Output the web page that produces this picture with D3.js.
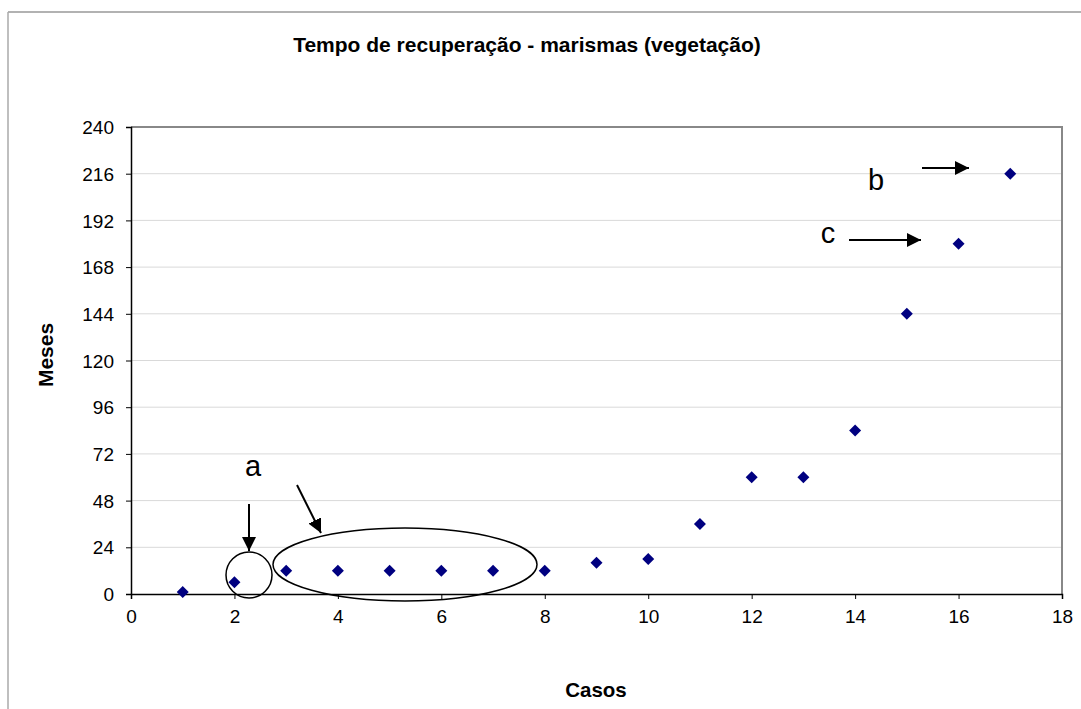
<!DOCTYPE html>
<html><head><meta charset="utf-8">
<script src="https://cdn.jsdelivr.net/npm/d3@7"></script>
<style>body{margin:0;background:#fff}svg{display:block}text{font-family:"Liberation Sans",Arial,sans-serif}</style>
</head><body><svg id="c" width="1081" height="709"></svg>
<script>
const casos = [1,2,3,4,5,6,7,8,9,10,11,12,13,14,15,16,17];
const meses = [1,6,12,12,12,12,12,12,16,18,36,60,60,84,144,180,216];
const xTicks = [0,2,4,6,8,10,12,14,16,18];
const yTicks = [0,24,48,72,96,120,144,168,192,216,240];
const title = "Tempo de recuperação - marismas (vegetação)";
const xLabel = "Casos", yLabel = "Meses";

const svg = d3.select("#c");
const L=131, R=1062, T=127, B=594;
const x = d3.scaleLinear().domain([0,18]).range([L,R]);
const y = d3.scaleLinear().domain([0,240]).range([B,T]);

// outer frame
svg.append("line").attr("x1",8).attr("x2",1081).attr("y1",12).attr("y2",12).attr("stroke","#666").attr("stroke-width",1.2);
svg.append("line").attr("x1",8).attr("x2",8).attr("y1",12).attr("y2",709).attr("stroke","#aaa").attr("stroke-width",1.5);

// gridlines
svg.append("g").selectAll("line").data(yTicks.filter(d=>d>0&&d<240)).join("line")
  .attr("x1",L).attr("x2",R).attr("y1",d=>y(d)).attr("y2",d=>y(d)).attr("stroke","#d9d9d9").attr("stroke-width",1);

// plot border top/right
svg.append("path").attr("d",`M${L},${T}H${R}V${B}`).attr("fill","none").attr("stroke","#888").attr("stroke-width",2);

// axes
const xa = svg.append("g").attr("transform",`translate(0,${B})`)
  .call(d3.axisBottom(x).tickValues(xTicks).tickSize(5).tickPadding(11));
const ya = svg.append("g").attr("transform",`translate(${L},0)`)
  .call(d3.axisLeft(y).tickValues(yTicks).tickSize(5).tickPadding(12));
[xa,ya].forEach(g=>{
  g.select(".domain").attr("stroke","#000").attr("stroke-width",1.5);
  g.selectAll(".tick line").attr("stroke","#000");
  g.selectAll("text").attr("font-size",19).attr("fill","#000").attr("font-family","Liberation Sans, Arial, sans-serif");
});
ya.selectAll("text").attr("dy","0.35em");

// points
svg.append("g").selectAll("path").data(casos).join("path")
  .attr("transform",(d,i)=>`translate(${x(d)},${y(meses[i])})`)
  .attr("d","M0,-6L6,0L0,6L-6,0Z").attr("fill","#000080");

// titles
svg.append("text").attr("x",527).attr("y",52).attr("text-anchor","middle").attr("font-size",21).attr("font-weight","bold").text(title);
svg.append("text").attr("x",596).attr("y",697).attr("text-anchor","middle").attr("font-size",20.5).attr("font-weight","bold").text(xLabel);
svg.append("text").attr("transform","translate(53,355) rotate(-90)").attr("text-anchor","middle").attr("font-size",21).attr("font-weight","bold").text(yLabel);

// annotations
const defs = svg.append("defs");
defs.append("marker").attr("id","ah").attr("viewBox","0 0 10 10").attr("refX",10).attr("refY",5)
  .attr("markerWidth",7).attr("markerHeight",7).attr("markerUnits","strokeWidth").attr("orient","auto")
  .append("path").attr("d","M0,0L10,5L0,10Z").attr("fill","#000");
const arrows = [[249,504,249,551],[297,485,321,533],[922,168,969,168],[849,240,921,240]];
svg.append("g").selectAll("line").data(arrows).join("line")
  .attr("x1",d=>d[0]).attr("y1",d=>d[1]).attr("x2",d=>d[2]).attr("y2",d=>d[3])
  .attr("stroke","#000").attr("stroke-width",2).attr("marker-end","url(#ah)");
svg.append("circle").attr("cx",249).attr("cy",575).attr("r",23).attr("fill","none").attr("stroke","#000").attr("stroke-width",1.5);
svg.append("ellipse").attr("cx",405).attr("cy",564.5).attr("rx",132).attr("ry",36.5).attr("fill","none").attr("stroke","#000").attr("stroke-width",1.5);
const labs = [["a",253,476],["b",876,190],["c",828,243]];
svg.append("g").selectAll("text").data(labs).join("text")
  .attr("x",d=>d[1]).attr("y",d=>d[2]).attr("text-anchor","middle").attr("font-size",29).text(d=>d[0]);
</script></body></html>
